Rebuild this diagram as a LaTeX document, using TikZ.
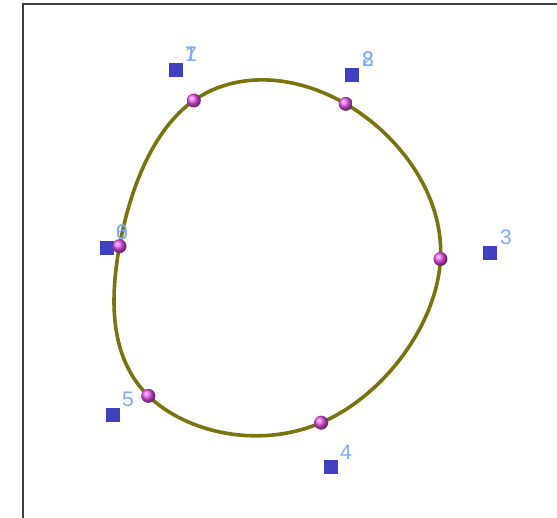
\documentclass[tikz,border=0pt]{standalone}
\usepackage{fontspec}
\setmainfont{Liberation Sans}
\usetikzlibrary{calc}
\definecolor{curvecol}{RGB}{122,116,14}
\definecolor{sqcol}{RGB}{64,64,192}
\definecolor{lblcol}{RGB}{128,170,250}
\definecolor{dotcol}{RGB}{235,80,235}
\definecolor{framecol}{RGB}{64,64,64}
\tikzset{
  ctrl/.style={fill=sqcol, draw=none, minimum size=14pt, inner sep=0pt, rectangle},
  lbl/.style={text=lblcol, font=\fontsize{21}{21}\selectfont, inner sep=0pt, anchor=center},
  knot/.style={circle, shading=ball, ball color=dotcol, minimum size=14pt, inner sep=0pt, draw=none},
  curve/.style={draw=curvecol, line width=3.6pt},
}
\begin{document}
\begin{tikzpicture}[x=1pt, y=-1pt]
\useasboundingbox (0,0) rectangle (557,518);
\fill[white] (0,0) rectangle (557,518);
\draw[framecol, line width=2pt] (23,520) -- (23,4) -- (560,4);

% control points
\coordinate (P0) at (107,248);
\coordinate (P1) at (176,70);
\coordinate (P2) at (352,75);
\coordinate (P3) at (490,253);
\coordinate (P4) at (331,467);
\coordinate (P5) at (113,415);

% knots of closed uniform cubic B-spline
\coordinate (K0) at ($1/6*(P5)+4/6*(P0)+1/6*(P1)$);
\coordinate (K1) at ($1/6*(P0)+4/6*(P1)+1/6*(P2)$);
\coordinate (K2) at ($1/6*(P1)+4/6*(P2)+1/6*(P3)$);
\coordinate (K3) at ($1/6*(P2)+4/6*(P3)+1/6*(P4)$);
\coordinate (K4) at ($1/6*(P3)+4/6*(P4)+1/6*(P5)$);
\coordinate (K5) at ($1/6*(P4)+4/6*(P5)+1/6*(P0)$);

% bezier handles
\coordinate (A0) at ($(P0)!1/3!(P1)$); \coordinate (B0) at ($(P0)!2/3!(P1)$);
\coordinate (A1) at ($(P1)!1/3!(P2)$); \coordinate (B1) at ($(P1)!2/3!(P2)$);
\coordinate (A2) at ($(P2)!1/3!(P3)$); \coordinate (B2) at ($(P2)!2/3!(P3)$);
\coordinate (A3) at ($(P3)!1/3!(P4)$); \coordinate (B3) at ($(P3)!2/3!(P4)$);
\coordinate (A4) at ($(P4)!1/3!(P5)$); \coordinate (B4) at ($(P4)!2/3!(P5)$);
\coordinate (A5) at ($(P5)!1/3!(P0)$); \coordinate (B5) at ($(P5)!2/3!(P0)$);

\path[curve] (K0) .. controls (A0) and (B0) .. (K1)
  .. controls (A1) and (B1) .. (K2)
  .. controls (A2) and (B2) .. (K3)
  .. controls (A3) and (B3) .. (K4)
  .. controls (A4) and (B4) .. (K5)
  .. controls (A5) and (B5) .. (K0) -- cycle;

% control squares
\node[ctrl] (c0) at (P0) {};
\node[ctrl] (c1) at (P1) {};
\node[ctrl] (c2) at (P2) {};
\node[ctrl] (c3) at (P3) {};
\node[ctrl] (c4) at (P4) {};
\node[ctrl] (c5) at (P5) {};

% labels
\node[lbl] (l1) at (191,54) {1};
\node[lbl] (l7) at (191,54) {7};
\node[lbl] (l2) at (368,59) {2};
\node[lbl] (l8) at (368,59) {8};
\node[lbl] (l3) at (506,237) {3};
\node[lbl] (l4) at (346,452) {4};
\node[lbl] (l5) at (128,399) {5};
\node[lbl] (l6) at (122,232) {6};
\node[lbl] (l0) at (122,232) {0};

% knot dots
\node[knot] (k0) at (K0) {};
\node[knot] (k1) at (K1) {};
\node[knot] (k2) at (K2) {};
\node[knot] (k3) at (K3) {};
\node[knot] (k4) at (K4) {};
\node[knot] (k5) at (K5) {};
\end{tikzpicture}
\end{document}
